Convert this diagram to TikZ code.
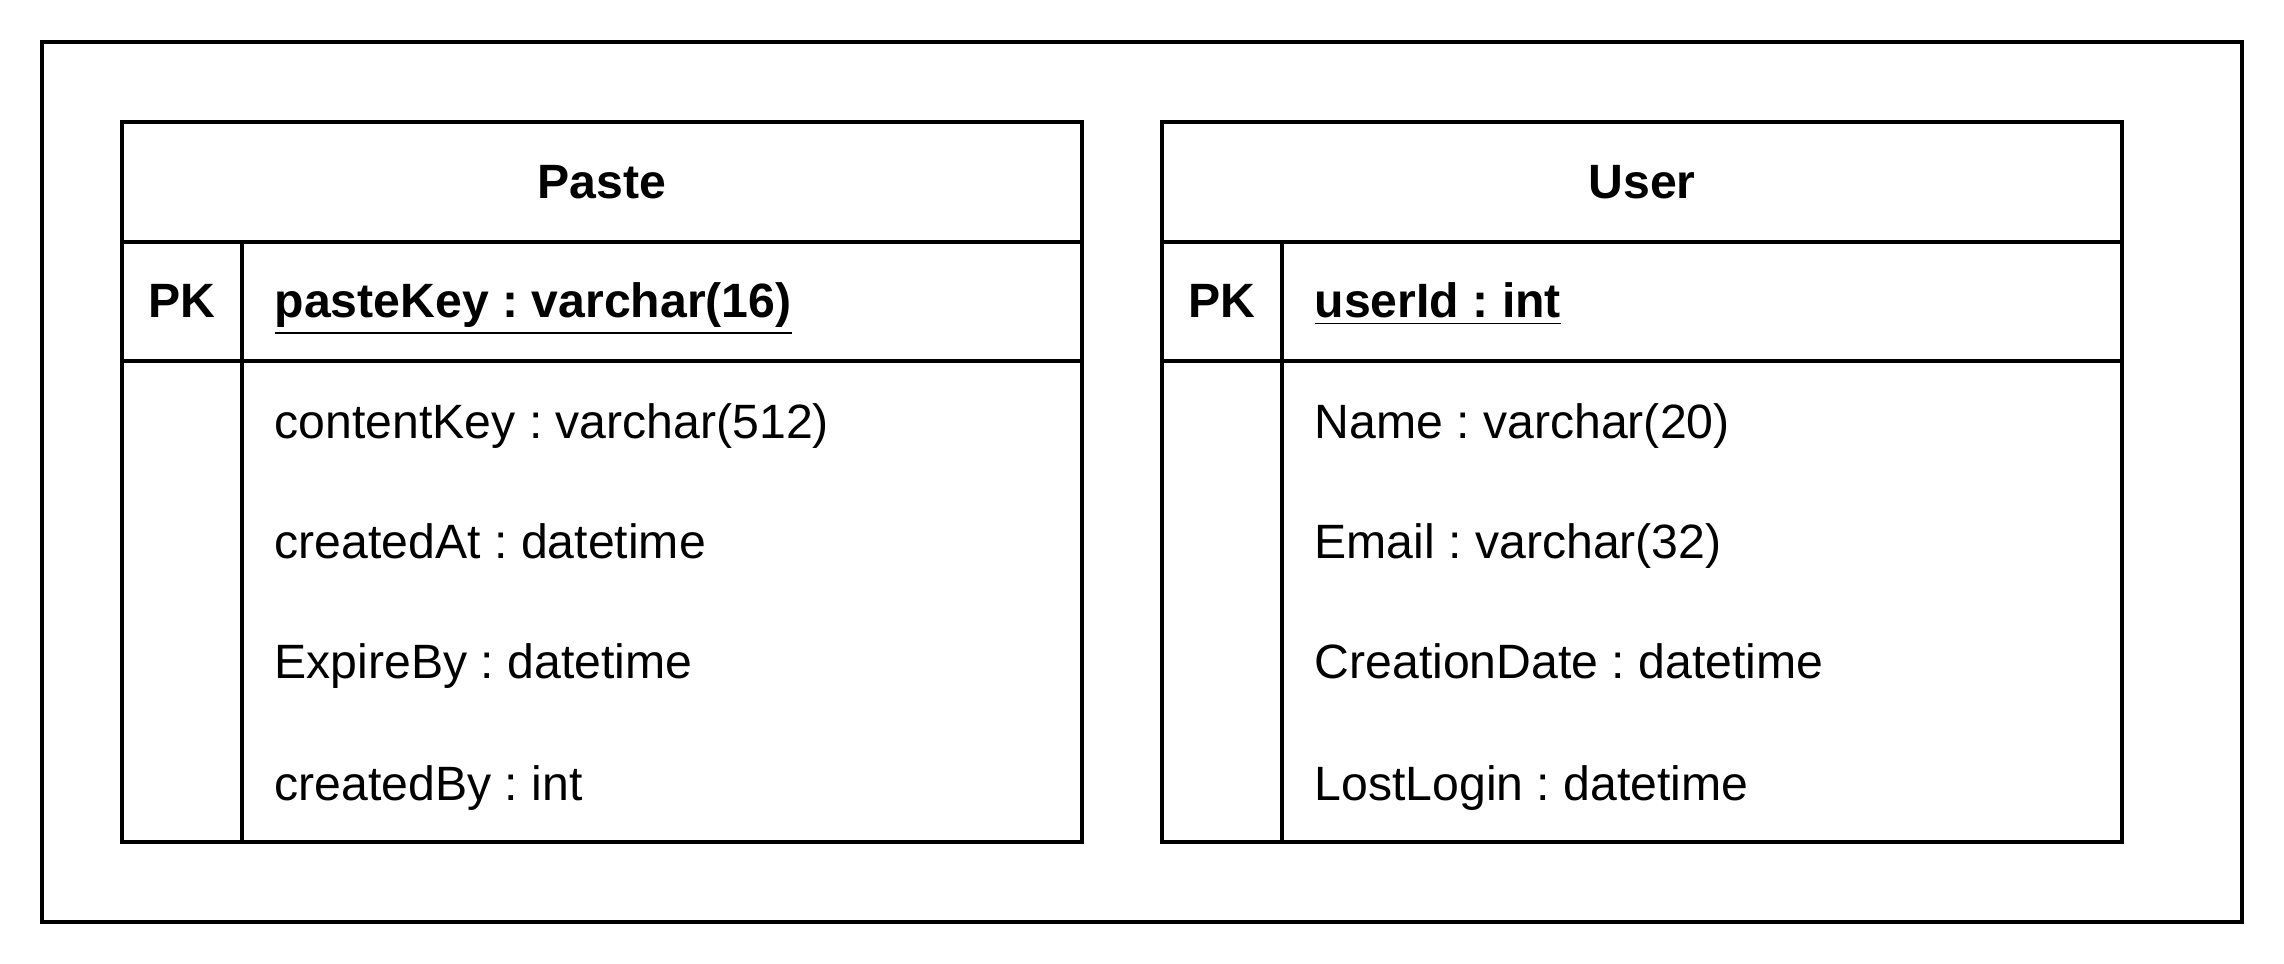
\documentclass[tikz,border=0pt]{standalone}
\usepackage{fontspec}
\setmainfont{Liberation Sans}
\usetikzlibrary{positioning}
\frenchspacing

\begin{document}
\begin{tikzpicture}[x=0.01cm,y=-0.01cm,
    frame/.style={draw,line width=1.15pt},
    tbl/.style={draw,line width=1.15pt},
    head/.style={font=\fontsize{13.7}{16}\selectfont\bfseries,anchor=base,inner sep=0pt},
    key/.style={font=\fontsize{13.7}{16}\selectfont\bfseries,anchor=base,inner sep=0pt},
    keyfield/.style={font=\fontsize{13.7}{16}\selectfont\bfseries,anchor=base west,inner sep=0pt},
    field/.style={font=\fontsize{13.7}{16}\selectfont,anchor=base west,inner sep=0pt}]
    \useasboundingbox (0,0) rectangle (2284,964);
    % Outer frame
    \draw[frame] (42,42) rectangle (2242,922);
    % Paste table
    \draw[tbl] (122,122) rectangle (1082,842);
    \draw[tbl] (122,242) -- (1082,242);
    \draw[tbl] (122,361) -- (1082,361);
    \draw[tbl] (242,242) -- (242,842);
    \node[head] (pastehead) at (602,199) {Paste};
    \node[key] (pastepk) at (182,318) {PK};
    \node[keyfield] (pastekey) at (274,318) {\underline{pasteKey : varchar(16)}};
    \node[field] (pastecontent) at (274,439) {contentKey : varchar(512)};
    \node[field] (pastecreated) at (274,559) {createdAt : datetime};
    \node[field] (pasteexpire) at (274,679) {ExpireBy : datetime};
    \node[field] (pasteby) at (274,800) {createdBy : int};
    % User table
    \draw[tbl] (1162,122) rectangle (2122,842);
    \draw[tbl] (1162,242) -- (2122,242);
    \draw[tbl] (1162,361) -- (2122,361);
    \draw[tbl] (1282,242) -- (1282,842);
    \node[head] (userhead) at (1642,199) {User};
    \node[key] (userpk) at (1222,318) {PK};
    \node[keyfield] (userkey) at (1314,318) {\underline{userId : int}};
    \node[field] (username) at (1314,439) {Name : varchar(20)};
    \node[field] (useremail) at (1314,559) {Email : varchar(32)};
    \node[field] (userdate) at (1314,679) {CreationDate : datetime};
    \node[field] (userlogin) at (1314,800) {LostLogin : datetime};
\end{tikzpicture}
\end{document}
